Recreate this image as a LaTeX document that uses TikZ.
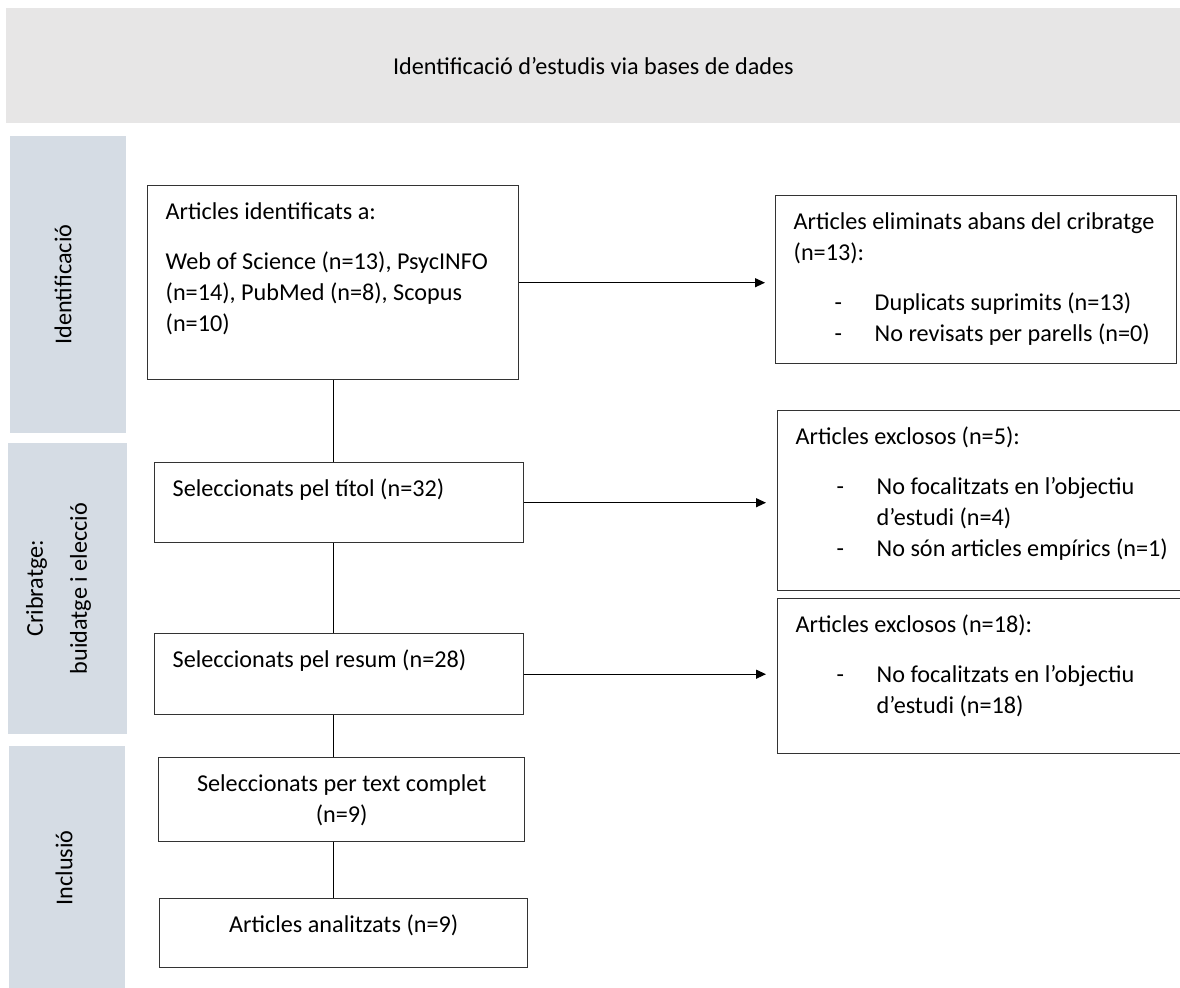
\documentclass[tikz,border=0pt]{standalone}
\usepackage{fontspec}
\setmainfont{Carlito}
\usetikzlibrary{arrows.meta,
                positioning}

\definecolor{headgray}{HTML}{E7E6E6}
\definecolor{phasegray}{HTML}{D5DCE4}

\newcommand{\boxtext}[3]{\parbox[t][#2][t]{#1}{\raggedright\leftskip=9pt\strut#3}}
\newcommand{\boxcentre}[3]{\parbox[t][#2][t]{#1}{\centering\strut#3}}
\newcommand{\itm}{\makebox[40.5pt][l]{\hspace*{20.5pt}-}}
\newcommand{\cont}{\hspace*{40.5pt}}

\tikzset{stage/.style =
   {rectangle,
    draw=black!80,
    line width=0.7pt,
    anchor=north west,
    inner xsep=0pt,
    inner ysep=6pt,
    font=\fontsize{12.1pt}{15.5pt}\selectfont}}
\tikzset{phase/.style =
   {rectangle,
    fill=phasegray,
    inner sep=0pt}}
\tikzset{phasetext/.style =
   {rotate=90,
    align=center,
    font=\fontsize{12.1pt}{15.5pt}\selectfont}}
\tikzset{arrow/.style = {draw, line width=0.6pt, -{Triangle[length=5pt, width=4.5pt]}}}
\tikzset{link/.style = {draw, line width=0.6pt}}

\begin{document}
\begin{tikzpicture}[x=0.5pt, y=-0.5pt]

    \useasboundingbox (0,0) rectangle (1180,987);

    \node [fill=headgray, anchor=north west, inner sep=0pt,
           minimum width=587pt, minimum height=57.5pt,
           font=\fontsize{12.1pt}{15.5pt}\selectfont] (head) at (6,8)
    {Identificació d’estudis via bases de dades};

    \node [phase, minimum width=58pt, minimum height=148.5pt] (identband) at (68,284.5) {};
    \node [phase, minimum width=59.5pt, minimum height=145.5pt] (cribband) at (67.5,588.5) {};
    \node [phase, minimum width=58pt, minimum height=122pt] (inclband) at (67,868) {};

    \node [phasetext] (identlabel) at ([xshift=-2.5pt]identband.center) {Identificació};
    \node [phasetext] (criblabel) at ([xshift=-4.5pt]cribband.center)
    {Cribratge:\\[6.5pt]buidatge i elecció};
    \node [phasetext] (incllabel) at ([xshift=-1.5pt]inclband.center) {Inclusió};

    \node [stage] (ident) at (147,185)
    {\boxtext{185.5pt}{85pt}{Articles identificats a:\\[9.5pt]
     Web of Science (n=13), PsycINFO\\
     (n=14), PubMed (n=8), Scopus\\
     (n=10)}};

    \node [stage] (removed) at (775,195)
    {\boxtext{200.5pt}{72pt}{Articles eliminats abans del cribratge\\
     (n=13):\\[9.5pt]
     \itm Duplicats suprimits (n=13)\\
     \itm No revisats per parells (n=0)}};

    \node [stage] (title) at (154,462)
    {\boxtext{184.5pt}{28pt}{Seleccionats pel títol (n=32)}};

    \node [stage] (excl1) at (777,410)
    {\boxtext{201.5pt}{78pt}{Articles exclosos (n=5):\\[9.5pt]
     \itm No focalitzats en l’objectiu\\
     \cont d’estudi (n=4)\\
     \itm No són articles empírics (n=1)}};

    \node [stage] (abstract) at (154,633)
    {\boxtext{184.5pt}{28.5pt}{Seleccionats pel resum (n=28)}};

    \node [stage] (excl2) at (777,598)
    {\boxtext{201.5pt}{65.5pt}{Articles exclosos (n=18):\\[9.5pt]
     \itm No focalitzats en l’objectiu\\
     \cont d’estudi (n=18)}};

    \node [stage] (fulltext) at (158,757)
    {\boxcentre{183pt}{30pt}{Seleccionats per text complet\\(n=9)}};

    \node [stage] (analyzed) at (159,898)
    {\boxcentre{184pt}{22.5pt}{Articles analitzats (n=9)}};

    \draw [link] (ident.south) -- (title.north -| ident.south);
    \draw [link] (title.south -| ident.south) -- (abstract.north -| ident.south);
    \draw [link] (abstract.south -| ident.south) -- (fulltext.north -| ident.south);
    \draw [link] (fulltext.south -| ident.south) -- (analyzed.north -| ident.south);

    \draw [arrow] (ident.east) -- ([xshift=-5pt]removed.west |- ident.east);
    \draw [arrow] (title.east) -- ([xshift=-5.5pt]excl1.west |- title.east);
    \draw [arrow] (abstract.east) -- ([xshift=-5.5pt]excl2.west |- abstract.east);

\end{tikzpicture}
\end{document}
